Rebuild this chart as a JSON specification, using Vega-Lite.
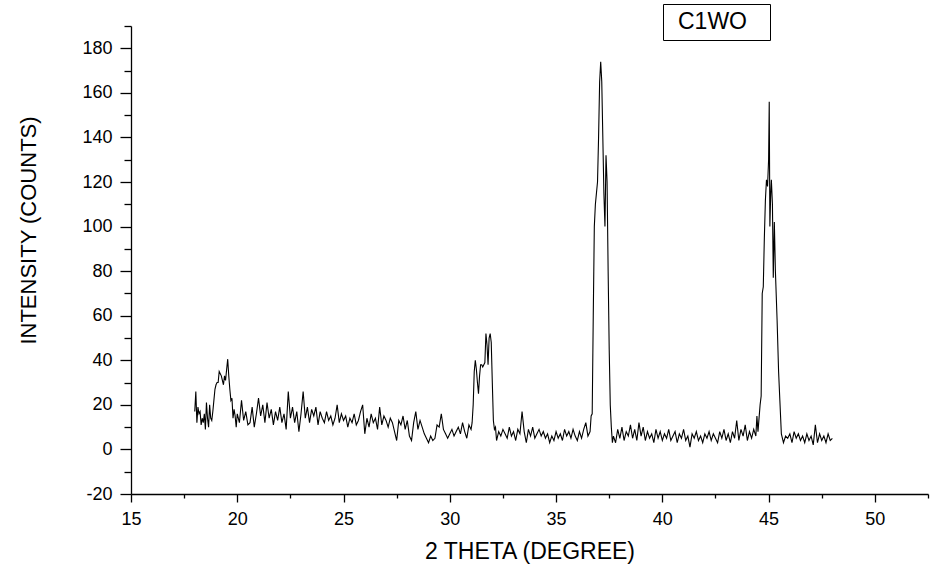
{
  "$schema": "https://vega.github.io/schema/vega-lite/v6.json",
  "width": 797,
  "height": 468,
  "autosize": {"type": "none"},
  "padding": {"left": 131, "top": 26, "right": 3, "bottom": 79},
  "background": "white",
  "config": {
    "view": {"stroke": null},
    "font": "Liberation Sans",
    "axis": {"labelFont": "Liberation Sans", "titleFont": "Liberation Sans", "labelColor": "black", "titleColor": "black", "domainColor": "black", "tickColor": "black", "titleFontWeight": "normal", "grid": false},
    "legend": {"strokeColor": "black"}
  },
  "data": {
    "values": [
      {"x": 18.00, "y": 17, "s": "C1WO"}, {"x": 18.05, "y": 26, "s": "C1WO"}, {"x": 18.10, "y": 12, "s": "C1WO"}, {"x": 18.15, "y": 19, "s": "C1WO"}, {"x": 18.20, "y": 16, "s": "C1WO"}, {"x": 18.25, "y": 17, "s": "C1WO"}, {"x": 18.30, "y": 11, "s": "C1WO"}, {"x": 18.35, "y": 14, "s": "C1WO"}, {"x": 18.40, "y": 12, "s": "C1WO"}, {"x": 18.45, "y": 16, "s": "C1WO"}, {"x": 18.50, "y": 9, "s": "C1WO"}, {"x": 18.55, "y": 21, "s": "C1WO"}, {"x": 18.60, "y": 14, "s": "C1WO"}, {"x": 18.65, "y": 10, "s": "C1WO"}, {"x": 18.70, "y": 20, "s": "C1WO"}, {"x": 18.75, "y": 14, "s": "C1WO"}, {"x": 18.80, "y": 13, "s": "C1WO"}, {"x": 18.85, "y": 17, "s": "C1WO"}, {"x": 18.90, "y": 22, "s": "C1WO"}, {"x": 18.95, "y": 27, "s": "C1WO"},
      {"x": 19.00, "y": 29, "s": "C1WO"}, {"x": 19.05, "y": 30, "s": "C1WO"}, {"x": 19.10, "y": 30, "s": "C1WO"}, {"x": 19.15, "y": 35, "s": "C1WO"}, {"x": 19.20, "y": 34, "s": "C1WO"}, {"x": 19.25, "y": 33, "s": "C1WO"}, {"x": 19.30, "y": 31, "s": "C1WO"}, {"x": 19.35, "y": 29, "s": "C1WO"}, {"x": 19.40, "y": 33, "s": "C1WO"}, {"x": 19.45, "y": 31, "s": "C1WO"}, {"x": 19.50, "y": 36, "s": "C1WO"}, {"x": 19.55, "y": 40.5, "s": "C1WO"}, {"x": 19.60, "y": 33, "s": "C1WO"}, {"x": 19.65, "y": 27, "s": "C1WO"}, {"x": 19.70, "y": 22, "s": "C1WO"}, {"x": 19.75, "y": 23, "s": "C1WO"}, {"x": 19.80, "y": 14, "s": "C1WO"}, {"x": 19.85, "y": 18, "s": "C1WO"}, {"x": 19.90, "y": 15, "s": "C1WO"}, {"x": 19.95, "y": 10, "s": "C1WO"},
      {"x": 20.0, "y": 16, "s": "C1WO"}, {"x": 20.1, "y": 12, "s": "C1WO"}, {"x": 20.2, "y": 22, "s": "C1WO"}, {"x": 20.3, "y": 13, "s": "C1WO"}, {"x": 20.4, "y": 17, "s": "C1WO"}, {"x": 20.5, "y": 11, "s": "C1WO"}, {"x": 20.6, "y": 12, "s": "C1WO"}, {"x": 20.7, "y": 19, "s": "C1WO"}, {"x": 20.8, "y": 10, "s": "C1WO"}, {"x": 20.9, "y": 16, "s": "C1WO"},
      {"x": 21.0, "y": 23, "s": "C1WO"}, {"x": 21.1, "y": 15, "s": "C1WO"}, {"x": 21.2, "y": 20, "s": "C1WO"}, {"x": 21.3, "y": 12, "s": "C1WO"}, {"x": 21.4, "y": 21, "s": "C1WO"}, {"x": 21.5, "y": 14, "s": "C1WO"}, {"x": 21.6, "y": 18, "s": "C1WO"}, {"x": 21.7, "y": 11, "s": "C1WO"}, {"x": 21.8, "y": 17, "s": "C1WO"}, {"x": 21.9, "y": 13, "s": "C1WO"},
      {"x": 22.0, "y": 19, "s": "C1WO"}, {"x": 22.1, "y": 12, "s": "C1WO"}, {"x": 22.2, "y": 16, "s": "C1WO"}, {"x": 22.3, "y": 9, "s": "C1WO"}, {"x": 22.4, "y": 26, "s": "C1WO"}, {"x": 22.5, "y": 14, "s": "C1WO"}, {"x": 22.6, "y": 19, "s": "C1WO"}, {"x": 22.7, "y": 12, "s": "C1WO"}, {"x": 22.8, "y": 17, "s": "C1WO"}, {"x": 22.9, "y": 8, "s": "C1WO"},
      {"x": 23.0, "y": 16, "s": "C1WO"}, {"x": 23.1, "y": 26, "s": "C1WO"}, {"x": 23.2, "y": 14, "s": "C1WO"}, {"x": 23.3, "y": 19, "s": "C1WO"}, {"x": 23.4, "y": 12, "s": "C1WO"}, {"x": 23.5, "y": 18, "s": "C1WO"}, {"x": 23.6, "y": 15, "s": "C1WO"}, {"x": 23.7, "y": 19, "s": "C1WO"}, {"x": 23.8, "y": 11, "s": "C1WO"}, {"x": 23.9, "y": 17, "s": "C1WO"},
      {"x": 24.0, "y": 14, "s": "C1WO"}, {"x": 24.1, "y": 12, "s": "C1WO"}, {"x": 24.2, "y": 17, "s": "C1WO"}, {"x": 24.3, "y": 13, "s": "C1WO"}, {"x": 24.4, "y": 15, "s": "C1WO"}, {"x": 24.5, "y": 11, "s": "C1WO"}, {"x": 24.6, "y": 14, "s": "C1WO"}, {"x": 24.7, "y": 20, "s": "C1WO"}, {"x": 24.8, "y": 12, "s": "C1WO"}, {"x": 24.9, "y": 16, "s": "C1WO"},
      {"x": 25.0, "y": 13, "s": "C1WO"}, {"x": 25.1, "y": 15, "s": "C1WO"}, {"x": 25.2, "y": 10, "s": "C1WO"}, {"x": 25.3, "y": 14, "s": "C1WO"}, {"x": 25.4, "y": 12, "s": "C1WO"}, {"x": 25.5, "y": 16, "s": "C1WO"}, {"x": 25.6, "y": 11, "s": "C1WO"}, {"x": 25.7, "y": 13, "s": "C1WO"}, {"x": 25.8, "y": 17, "s": "C1WO"}, {"x": 25.9, "y": 20, "s": "C1WO"},
      {"x": 26.0, "y": 7, "s": "C1WO"}, {"x": 26.1, "y": 14, "s": "C1WO"}, {"x": 26.2, "y": 10, "s": "C1WO"}, {"x": 26.3, "y": 16, "s": "C1WO"}, {"x": 26.4, "y": 12, "s": "C1WO"}, {"x": 26.5, "y": 14, "s": "C1WO"}, {"x": 26.6, "y": 9, "s": "C1WO"}, {"x": 26.7, "y": 19, "s": "C1WO"}, {"x": 26.8, "y": 11, "s": "C1WO"}, {"x": 26.9, "y": 15, "s": "C1WO"},
      {"x": 27.0, "y": 13, "s": "C1WO"}, {"x": 27.1, "y": 10, "s": "C1WO"}, {"x": 27.2, "y": 14, "s": "C1WO"}, {"x": 27.3, "y": 12, "s": "C1WO"}, {"x": 27.4, "y": 8, "s": "C1WO"}, {"x": 27.5, "y": 4, "s": "C1WO"}, {"x": 27.6, "y": 13, "s": "C1WO"}, {"x": 27.7, "y": 11, "s": "C1WO"}, {"x": 27.8, "y": 15, "s": "C1WO"}, {"x": 27.9, "y": 9, "s": "C1WO"},
      {"x": 28.0, "y": 13, "s": "C1WO"}, {"x": 28.1, "y": 6, "s": "C1WO"}, {"x": 28.2, "y": 4, "s": "C1WO"}, {"x": 28.3, "y": 12, "s": "C1WO"}, {"x": 28.4, "y": 17, "s": "C1WO"}, {"x": 28.5, "y": 9, "s": "C1WO"}, {"x": 28.6, "y": 13, "s": "C1WO"}, {"x": 28.7, "y": 10, "s": "C1WO"}, {"x": 28.8, "y": 7, "s": "C1WO"}, {"x": 28.9, "y": 5, "s": "C1WO"},
      {"x": 29.0, "y": 3, "s": "C1WO"}, {"x": 29.1, "y": 6, "s": "C1WO"}, {"x": 29.2, "y": 4, "s": "C1WO"}, {"x": 29.3, "y": 5, "s": "C1WO"}, {"x": 29.4, "y": 11, "s": "C1WO"}, {"x": 29.5, "y": 10, "s": "C1WO"}, {"x": 29.6, "y": 16, "s": "C1WO"}, {"x": 29.7, "y": 9, "s": "C1WO"}, {"x": 29.8, "y": 7, "s": "C1WO"}, {"x": 29.9, "y": 5, "s": "C1WO"},
      {"x": 30.0, "y": 7, "s": "C1WO"}, {"x": 30.1, "y": 9, "s": "C1WO"}, {"x": 30.2, "y": 6, "s": "C1WO"}, {"x": 30.3, "y": 8, "s": "C1WO"}, {"x": 30.4, "y": 10, "s": "C1WO"}, {"x": 30.5, "y": 7, "s": "C1WO"}, {"x": 30.6, "y": 12, "s": "C1WO"}, {"x": 30.7, "y": 8, "s": "C1WO"}, {"x": 30.8, "y": 5, "s": "C1WO"}, {"x": 30.9, "y": 11, "s": "C1WO"},
      {"x": 31.0, "y": 9, "s": "C1WO"}, {"x": 31.05, "y": 12, "s": "C1WO"}, {"x": 31.1, "y": 20, "s": "C1WO"}, {"x": 31.15, "y": 35, "s": "C1WO"}, {"x": 31.2, "y": 40, "s": "C1WO"}, {"x": 31.25, "y": 36, "s": "C1WO"}, {"x": 31.3, "y": 30, "s": "C1WO"}, {"x": 31.35, "y": 25, "s": "C1WO"}, {"x": 31.4, "y": 33, "s": "C1WO"}, {"x": 31.45, "y": 38, "s": "C1WO"}, {"x": 31.5, "y": 38, "s": "C1WO"}, {"x": 31.55, "y": 37, "s": "C1WO"}, {"x": 31.6, "y": 38, "s": "C1WO"}, {"x": 31.65, "y": 39, "s": "C1WO"}, {"x": 31.7, "y": 52, "s": "C1WO"}, {"x": 31.75, "y": 47, "s": "C1WO"}, {"x": 31.8, "y": 38, "s": "C1WO"}, {"x": 31.85, "y": 50, "s": "C1WO"}, {"x": 31.9, "y": 52, "s": "C1WO"}, {"x": 31.95, "y": 48, "s": "C1WO"}, {"x": 32.0, "y": 30, "s": "C1WO"}, {"x": 32.05, "y": 13, "s": "C1WO"}, {"x": 32.1, "y": 9, "s": "C1WO"}, {"x": 32.15, "y": 10, "s": "C1WO"}, {"x": 32.2, "y": 4, "s": "C1WO"},
      {"x": 32.3, "y": 8, "s": "C1WO"}, {"x": 32.4, "y": 6, "s": "C1WO"}, {"x": 32.5, "y": 9, "s": "C1WO"}, {"x": 32.6, "y": 7, "s": "C1WO"}, {"x": 32.7, "y": 5, "s": "C1WO"}, {"x": 32.8, "y": 10, "s": "C1WO"}, {"x": 32.9, "y": 6, "s": "C1WO"},
      {"x": 33.0, "y": 8, "s": "C1WO"}, {"x": 33.1, "y": 4, "s": "C1WO"}, {"x": 33.2, "y": 9, "s": "C1WO"}, {"x": 33.3, "y": 7, "s": "C1WO"}, {"x": 33.4, "y": 17, "s": "C1WO"}, {"x": 33.5, "y": 8, "s": "C1WO"}, {"x": 33.6, "y": 3, "s": "C1WO"}, {"x": 33.7, "y": 9, "s": "C1WO"}, {"x": 33.8, "y": 6, "s": "C1WO"}, {"x": 33.9, "y": 10, "s": "C1WO"},
      {"x": 34.0, "y": 5, "s": "C1WO"}, {"x": 34.1, "y": 7, "s": "C1WO"}, {"x": 34.2, "y": 9, "s": "C1WO"}, {"x": 34.3, "y": 6, "s": "C1WO"}, {"x": 34.4, "y": 8, "s": "C1WO"}, {"x": 34.5, "y": 5, "s": "C1WO"}, {"x": 34.6, "y": 7, "s": "C1WO"}, {"x": 34.7, "y": 3, "s": "C1WO"}, {"x": 34.8, "y": 6, "s": "C1WO"}, {"x": 34.9, "y": 4, "s": "C1WO"},
      {"x": 35.0, "y": 8, "s": "C1WO"}, {"x": 35.1, "y": 5, "s": "C1WO"}, {"x": 35.2, "y": 7, "s": "C1WO"}, {"x": 35.3, "y": 4, "s": "C1WO"}, {"x": 35.4, "y": 9, "s": "C1WO"}, {"x": 35.5, "y": 6, "s": "C1WO"}, {"x": 35.6, "y": 8, "s": "C1WO"}, {"x": 35.7, "y": 5, "s": "C1WO"}, {"x": 35.8, "y": 9, "s": "C1WO"}, {"x": 35.9, "y": 6, "s": "C1WO"},
      {"x": 36.0, "y": 4, "s": "C1WO"}, {"x": 36.1, "y": 8, "s": "C1WO"}, {"x": 36.2, "y": 5, "s": "C1WO"}, {"x": 36.3, "y": 9, "s": "C1WO"}, {"x": 36.4, "y": 12, "s": "C1WO"}, {"x": 36.5, "y": 6, "s": "C1WO"}, {"x": 36.6, "y": 8, "s": "C1WO"},
      {"x": 36.65, "y": 15, "s": "C1WO"}, {"x": 36.7, "y": 16, "s": "C1WO"}, {"x": 36.75, "y": 60, "s": "C1WO"}, {"x": 36.8, "y": 100, "s": "C1WO"}, {"x": 36.85, "y": 110, "s": "C1WO"}, {"x": 36.9, "y": 115, "s": "C1WO"}, {"x": 36.95, "y": 120, "s": "C1WO"}, {"x": 37.0, "y": 140, "s": "C1WO"}, {"x": 37.05, "y": 165, "s": "C1WO"}, {"x": 37.1, "y": 174, "s": "C1WO"}, {"x": 37.15, "y": 165, "s": "C1WO"}, {"x": 37.2, "y": 140, "s": "C1WO"}, {"x": 37.25, "y": 115, "s": "C1WO"}, {"x": 37.3, "y": 100, "s": "C1WO"}, {"x": 37.35, "y": 132, "s": "C1WO"}, {"x": 37.4, "y": 120, "s": "C1WO"}, {"x": 37.45, "y": 80, "s": "C1WO"}, {"x": 37.5, "y": 45, "s": "C1WO"}, {"x": 37.55, "y": 20, "s": "C1WO"}, {"x": 37.6, "y": 10, "s": "C1WO"}, {"x": 37.65, "y": 3, "s": "C1WO"}, {"x": 37.7, "y": 6, "s": "C1WO"},
      {"x": 37.8, "y": 3, "s": "C1WO"}, {"x": 37.9, "y": 9, "s": "C1WO"}, {"x": 38.0, "y": 5, "s": "C1WO"}, {"x": 38.1, "y": 10, "s": "C1WO"}, {"x": 38.2, "y": 4, "s": "C1WO"}, {"x": 38.3, "y": 8, "s": "C1WO"}, {"x": 38.4, "y": 6, "s": "C1WO"}, {"x": 38.5, "y": 11, "s": "C1WO"}, {"x": 38.6, "y": 5, "s": "C1WO"}, {"x": 38.7, "y": 9, "s": "C1WO"}, {"x": 38.8, "y": 4, "s": "C1WO"}, {"x": 38.9, "y": 12, "s": "C1WO"},
      {"x": 39.0, "y": 6, "s": "C1WO"}, {"x": 39.1, "y": 10, "s": "C1WO"}, {"x": 39.2, "y": 4, "s": "C1WO"}, {"x": 39.3, "y": 8, "s": "C1WO"}, {"x": 39.4, "y": 5, "s": "C1WO"}, {"x": 39.5, "y": 7, "s": "C1WO"}, {"x": 39.6, "y": 3, "s": "C1WO"}, {"x": 39.7, "y": 9, "s": "C1WO"}, {"x": 39.8, "y": 5, "s": "C1WO"}, {"x": 39.9, "y": 8, "s": "C1WO"},
      {"x": 40.0, "y": 4, "s": "C1WO"}, {"x": 40.1, "y": 7, "s": "C1WO"}, {"x": 40.2, "y": 5, "s": "C1WO"}, {"x": 40.3, "y": 9, "s": "C1WO"}, {"x": 40.4, "y": 4, "s": "C1WO"}, {"x": 40.5, "y": 6, "s": "C1WO"}, {"x": 40.6, "y": 8, "s": "C1WO"}, {"x": 40.7, "y": 3, "s": "C1WO"}, {"x": 40.8, "y": 7, "s": "C1WO"}, {"x": 40.9, "y": 5, "s": "C1WO"},
      {"x": 41.0, "y": 9, "s": "C1WO"}, {"x": 41.1, "y": 4, "s": "C1WO"}, {"x": 41.2, "y": 6, "s": "C1WO"}, {"x": 41.3, "y": 1, "s": "C1WO"}, {"x": 41.4, "y": 7, "s": "C1WO"}, {"x": 41.5, "y": 5, "s": "C1WO"}, {"x": 41.6, "y": 8, "s": "C1WO"}, {"x": 41.7, "y": 4, "s": "C1WO"}, {"x": 41.8, "y": 6, "s": "C1WO"}, {"x": 41.9, "y": 3, "s": "C1WO"},
      {"x": 42.0, "y": 7, "s": "C1WO"}, {"x": 42.1, "y": 5, "s": "C1WO"}, {"x": 42.2, "y": 8, "s": "C1WO"}, {"x": 42.3, "y": 4, "s": "C1WO"}, {"x": 42.4, "y": 7, "s": "C1WO"}, {"x": 42.5, "y": 5, "s": "C1WO"}, {"x": 42.6, "y": 3, "s": "C1WO"}, {"x": 42.7, "y": 8, "s": "C1WO"}, {"x": 42.8, "y": 5, "s": "C1WO"}, {"x": 42.9, "y": 9, "s": "C1WO"},
      {"x": 43.0, "y": 4, "s": "C1WO"}, {"x": 43.1, "y": 7, "s": "C1WO"}, {"x": 43.2, "y": 3, "s": "C1WO"}, {"x": 43.3, "y": 8, "s": "C1WO"}, {"x": 43.4, "y": 5, "s": "C1WO"}, {"x": 43.5, "y": 13, "s": "C1WO"}, {"x": 43.6, "y": 4, "s": "C1WO"}, {"x": 43.7, "y": 9, "s": "C1WO"}, {"x": 43.8, "y": 6, "s": "C1WO"}, {"x": 43.9, "y": 11, "s": "C1WO"},
      {"x": 44.0, "y": 4, "s": "C1WO"}, {"x": 44.1, "y": 8, "s": "C1WO"}, {"x": 44.2, "y": 5, "s": "C1WO"}, {"x": 44.3, "y": 9, "s": "C1WO"}, {"x": 44.4, "y": 6, "s": "C1WO"}, {"x": 44.45, "y": 15, "s": "C1WO"}, {"x": 44.5, "y": 8, "s": "C1WO"},
      {"x": 44.6, "y": 20, "s": "C1WO"}, {"x": 44.65, "y": 24, "s": "C1WO"}, {"x": 44.7, "y": 70, "s": "C1WO"}, {"x": 44.75, "y": 73, "s": "C1WO"}, {"x": 44.8, "y": 95, "s": "C1WO"}, {"x": 44.85, "y": 112, "s": "C1WO"}, {"x": 44.9, "y": 121, "s": "C1WO"}, {"x": 44.95, "y": 118, "s": "C1WO"}, {"x": 45.0, "y": 130, "s": "C1WO"}, {"x": 45.03, "y": 156, "s": "C1WO"}, {"x": 45.06, "y": 100, "s": "C1WO"}, {"x": 45.1, "y": 115, "s": "C1WO"}, {"x": 45.13, "y": 121, "s": "C1WO"}, {"x": 45.18, "y": 110, "s": "C1WO"}, {"x": 45.22, "y": 77, "s": "C1WO"}, {"x": 45.27, "y": 102, "s": "C1WO"}, {"x": 45.32, "y": 80, "s": "C1WO"}, {"x": 45.4, "y": 58, "s": "C1WO"}, {"x": 45.47, "y": 35, "s": "C1WO"}, {"x": 45.53, "y": 22, "s": "C1WO"}, {"x": 45.6, "y": 7, "s": "C1WO"},
      {"x": 45.7, "y": 3, "s": "C1WO"}, {"x": 45.8, "y": 6, "s": "C1WO"}, {"x": 45.9, "y": 5, "s": "C1WO"}, {"x": 46.0, "y": 7, "s": "C1WO"}, {"x": 46.1, "y": 3, "s": "C1WO"}, {"x": 46.2, "y": 8, "s": "C1WO"}, {"x": 46.3, "y": 5, "s": "C1WO"}, {"x": 46.4, "y": 7, "s": "C1WO"}, {"x": 46.5, "y": 4, "s": "C1WO"}, {"x": 46.6, "y": 6, "s": "C1WO"}, {"x": 46.7, "y": 3, "s": "C1WO"}, {"x": 46.8, "y": 7, "s": "C1WO"}, {"x": 46.9, "y": 4, "s": "C1WO"},
      {"x": 47.0, "y": 6, "s": "C1WO"}, {"x": 47.1, "y": 2, "s": "C1WO"}, {"x": 47.2, "y": 11, "s": "C1WO"}, {"x": 47.3, "y": 3, "s": "C1WO"}, {"x": 47.4, "y": 7, "s": "C1WO"}, {"x": 47.5, "y": 4, "s": "C1WO"}, {"x": 47.6, "y": 6, "s": "C1WO"}, {"x": 47.7, "y": 3, "s": "C1WO"}, {"x": 47.8, "y": 7, "s": "C1WO"}, {"x": 47.9, "y": 4, "s": "C1WO"}, {"x": 48.0, "y": 5, "s": "C1WO"}
    ]
  },
  "mark": {"type": "line", "strokeWidth": 1.1, "interpolate": "linear"},
  "encoding": {
    "x": {
      "field": "x", "type": "quantitative",
      "scale": {"domain": [15, 52.5], "nice": false, "zero": false},
      "axis": {
        "title": "2 THETA (DEGREE)",
        "values": [15, 17.5, 20, 22.5, 25, 27.5, 30, 32.5, 35, 37.5, 40, 42.5, 45, 47.5, 50, 52.5],
        "labelExpr": "datum.value % 5 === 0 ? '' + datum.value : ''",
        "tickSize": {"condition": {"test": "datum.value % 5 === 0", "value": 8}, "value": 4},
        "labelPadding": 8,
        "labelFontSize": 18,
        "labelFlush": false,
        "titleFontSize": 23,
        "titleBaseline": "middle",
        "titleY": 57,
        "domainWidth": 1.3,
        "tickWidth": 1.3
      }
    },
    "y": {
      "field": "y", "type": "quantitative",
      "scale": {"domain": [-20, 190], "nice": false, "zero": false},
      "axis": {
        "title": "INTENSITY (COUNTS)",
        "values": [-20, -10, 0, 10, 20, 30, 40, 50, 60, 70, 80, 90, 100, 110, 120, 130, 140, 150, 160, 170, 180, 190],
        "labelExpr": "datum.value % 20 === 0 ? '' + datum.value : ''",
        "tickSize": {"condition": {"test": "datum.value % 20 === 0", "value": 11}, "value": 7},
        "labelPadding": 8,
        "labelFontSize": 18,
        "labelFlush": false,
        "titleFontSize": 22,
        "titleX": -103,
        "titleY": 204,
        "titleAlign": "center",
        "titleBaseline": "middle",
        "domainWidth": 1.3,
        "tickWidth": 1.3
      }
    },
    "color": {
      "field": "s", "type": "nominal",
      "scale": {"range": ["black"]},
      "legend": {
        "title": null,
        "orient": "none",
        "legendX": 532,
        "legendY": -22,
        "symbolSize": 0,
        "symbolStrokeWidth": 0,
        "symbolOpacity": 0,
        "labelOffset": -14,
        "labelFont": "Liberation Sans",
        "labelFontSize": 23,
        "labelColor": "black",
        "labelExpr": "datum.label + '\u2800'",
        "padding": 6,
        "fillColor": "white"
      }
    }
  }
}
